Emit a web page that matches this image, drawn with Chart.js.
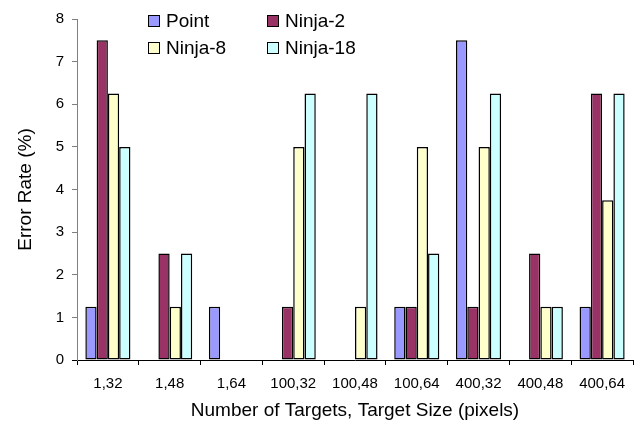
<!DOCTYPE html>
<html>
<head>
<meta charset="utf-8">
<script src="https://cdn.jsdelivr.net/npm/chart.js@4.4.1/dist/chart.umd.min.js"></script>
<style>
  html, body { margin: 0; padding: 0; background: #fff; }
  #wrap { width: 639px; height: 424px; }
</style>
</head>
<body>
<div id="wrap"><canvas id="c" width="639" height="424"></canvas></div>
<script>
// Error rate (%) per condition: number of targets, target size (pixels)
const categories = ['1,32', '1,48', '1,64', '100,32', '100,48', '100,64', '400,32', '400,48', '400,64'];
const seriesNames = ['Point', 'Ninja-2', 'Ninja-8', 'Ninja-18'];
const pointValues   = [1.25, 0,    1.25, 0,    0,    1.25, 7.5,  0,    1.25];
const ninja2Values  = [7.5,  2.5,  0,    1.25, 0,    1.25, 1.25, 2.5,  6.25];
const ninja8Values  = [6.25, 1.25, 0,    5,    1.25, 5,    5,    1.25, 3.75];
const ninja18Values = [5,    2.5,  0,    6.25, 6.25, 2.5,  6.25, 1.25, 6.25];
const yTicks = [0, 1, 2, 3, 4, 5, 6, 7, 8];

const fills = ['#9999FF', '#993366', '#FFFFCC', '#CCFFFF'];
const allValues = [pointValues, ninja2Values, ninja8Values, ninja18Values];

const FONT = "Arial, 'Liberation Sans', sans-serif";

// Two-column legend drawn inside the plot area
const insideLegend = {
  id: 'insideLegend',
  afterDraw(chart) {
    const ctx = chart.ctx;
    const ca = chart.chartArea;
    const cols = [ca.left + 71, ca.left + 190];
    const rows = [ca.top + 2, ca.top + 29];
    const box = 12;
    ctx.save();
    ctx.font = '19px ' + FONT;
    ctx.textBaseline = 'middle';
    chart.data.datasets.forEach((ds, i) => {
      const x = cols[i % 2];
      const y = rows[Math.floor(i / 2)];
      ctx.fillStyle = ds.backgroundColor;
      ctx.fillRect(x, y - box / 2, box, box);
      ctx.strokeStyle = '#000';
      ctx.lineWidth = 1;
      ctx.strokeRect(x + 0.5, y - box / 2 + 0.5, box - 1, box - 1);
      ctx.fillStyle = '#000';
      ctx.fillText(ds.label, x + box + 6, y + 1);
    });
    ctx.restore();
  }
};

// x axis baseline continues left past the y axis, as far as the y tick marks
const baselineStub = {
  id: 'baselineStub',
  afterDraw(chart) {
    const ctx = chart.ctx;
    const ca = chart.chartArea;
    ctx.save();
    ctx.strokeStyle = '#000';
    ctx.lineWidth = 1;
    ctx.beginPath();
    ctx.moveTo(ca.left - 5, Math.round(ca.bottom) + 0.5);
    ctx.lineTo(ca.left, Math.round(ca.bottom) + 0.5);
    ctx.stroke();
    ctx.restore();
  }
};

new Chart(document.getElementById('c'), {
  type: 'bar',
  data: {
    labels: categories,
    datasets: seriesNames.map((name, i) => ({
      label: name,
      data: allValues[i],
      backgroundColor: fills[i],
      borderColor: '#000',
      borderWidth: 1.5,
      borderSkipped: false,
      barPercentage: 1.0,
      categoryPercentage: 0.73
    }))
  },
  options: {
    responsive: false,
    animation: false,
    devicePixelRatio: 1,
    layout: { padding: { top: 19, right: 6, left: 14, bottom: 0 } },
    plugins: {
      legend: { display: false },
      tooltip: { enabled: false }
    },
    scales: {
      x: {
        grid: {
          display: true,
          offset: true,
          drawOnChartArea: false,
          drawTicks: true,
          tickLength: 5,
          color: '#000'
        },
        border: { display: true, color: '#000', width: 1 },
        ticks: {
          color: '#000',
          font: { family: FONT, size: 15 },
          padding: 10,
          maxRotation: 0,
          autoSkip: false
        },
        title: {
          display: true,
          text: 'Number of Targets, Target Size (pixels)',
          color: '#000',
          font: { family: FONT, size: 19 },
          padding: { top: 2, bottom: 2 }
        },
        afterFit(scale) { scale.height = 64; }
      },
      y: {
        min: 0,
        max: 8,
        afterBuildTicks(scale) { scale.ticks = yTicks.map(v => ({ value: v })); },
        grid: {
          display: true,
          drawOnChartArea: false,
          drawTicks: true,
          tickLength: 5,
          color: '#808080'
        },
        border: { display: true, color: '#808080', width: 1 },
        ticks: {
          color: '#000',
          font: { family: FONT, size: 15 },
          padding: 8
        },
        title: {
          display: true,
          text: 'Error Rate (%)',
          color: '#000',
          font: { family: FONT, size: 19 },
          padding: { top: 0, bottom: 0 }
        },
        afterFit(scale) { scale.width = 63; }
      }
    }
  },
  plugins: [insideLegend, baselineStub]
});
</script>
</body>
</html>
